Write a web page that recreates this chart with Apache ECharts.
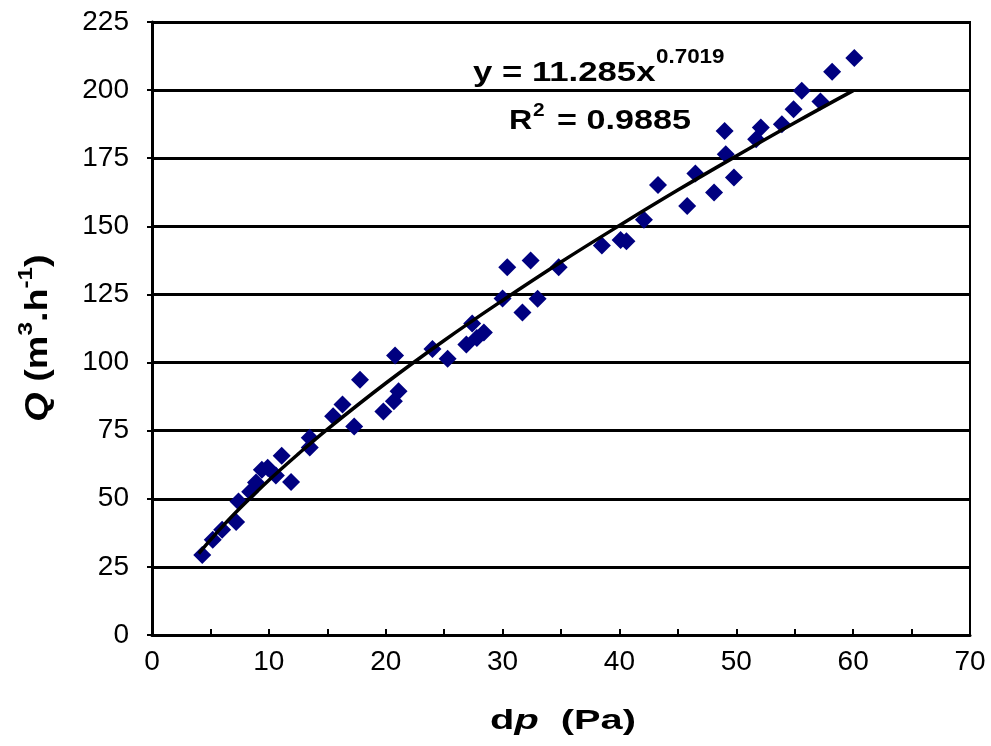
<!DOCTYPE html>
<html>
<head>
<meta charset="utf-8">
<script src="https://cdn.jsdelivr.net/npm/echarts@6/dist/echarts.min.js"></script>
<style>
html,body{margin:0;padding:0;background:#fff;}
#chart{width:991px;height:746px;}
</style>
</head>
<body>
<div id="chart"></div>
<script>
// Measured points: pressure difference dp (Pa) and flow Q (m3/h)
var dpValues = [4.3, 5.2, 6.0, 7.2, 7.4, 8.4, 8.9, 9.4, 9.9, 10.6, 11.1, 11.9,
  13.5, 13.5, 15.5, 16.3, 17.3, 17.8, 19.8, 20.7, 21.1, 20.8, 24.0, 25.3,
  26.9, 27.4, 27.8, 28.4, 30.0, 30.4, 31.7, 32.4, 33.0, 34.8, 38.5, 40.1,
  40.6, 42.1, 43.3, 45.8, 46.5, 48.1, 49.0, 49.1, 49.8, 51.7, 52.1, 53.9,
  54.9, 55.6, 57.2, 58.2, 60.1];
var qValues = [29.4, 35.0, 38.6, 41.5, 49.0, 52.6, 56.0, 60.7, 61.4, 58.5, 65.8, 56.2,
  68.8, 72.4, 80.3, 84.6, 76.5, 93.7, 82.0, 85.8, 89.5, 102.6, 105.0, 101.4,
  106.6, 114.3, 109.0, 111.0, 123.5, 135.0, 118.4, 137.5, 123.4, 135.0, 143.0, 145.0,
  144.5, 152.4, 165.2, 157.5, 169.4, 162.4, 185.0, 176.5, 167.9, 182.0, 186.3, 187.5,
  193.0, 199.8, 195.8, 206.7, 211.8];
// Fitted power trend line
var trendX = [4, 5, 6, 7.5, 10, 12.5, 15, 20, 25, 30, 35, 40, 45, 50, 55, 60];
var trendY = [29.9, 34.9, 39.7, 46.4, 56.8, 66.4, 75.5, 92.4, 108.1, 122.8, 136.9, 150.3, 163.3, 175.8, 188.0, 199.8];
// Axis ticks
var xTicks = {min: 0, max: 70, interval: 10};
var yTicks = {min: 0, max: 225, interval: 25};

var scatterData = dpValues.map(function (x, i) { return [x, qValues[i]]; });
var trendData = trendX.map(function (x, i) { return [x, trendY[i]]; });

var FONT = "'Liberation Sans', Arial, Helvetica, sans-serif";
var chart = echarts.init(document.getElementById('chart'), null, {renderer: 'canvas'});
chart.setOption({
  backgroundColor: '#ffffff',
  animation: false,
  grid: {left: 152, right: 21, top: 22, bottom: 111, show: true, borderColor: '#000', borderWidth: 2, backgroundColor: 'transparent'},
  xAxis: {
    type: 'value', min: xTicks.min, max: xTicks.max, interval: xTicks.interval,
    axisLine: {show: true, onZero: false, lineStyle: {color: '#000', width: 3}},
    axisTick: {show: true, inside: true, length: 6, lineStyle: {color: '#000', width: 2}},
    minorTick: {show: true, splitNumber: 2, length: 6, lineStyle: {color: '#000', width: 2}},
    splitLine: {show: false},
    axisLabel: {color: '#000', fontSize: 28, fontFamily: FONT, margin: 13}
  },
  yAxis: {
    type: 'value', min: yTicks.min, max: yTicks.max, interval: yTicks.interval,
    axisLine: {show: true, onZero: false, lineStyle: {color: '#000', width: 3}},
    axisTick: {show: true, inside: false, length: 5, lineStyle: {color: '#000', width: 2}},
    splitLine: {show: true, lineStyle: {color: '#000', width: 3}},
    axisLabel: {color: '#000', fontSize: 28, fontFamily: FONT, margin: 23}
  },
  series: [
    {
      type: 'scatter', data: scatterData, symbol: 'diamond', symbolSize: [18, 18],
      itemStyle: {color: '#000080', opacity: 1}, z: 2
    },
    {
      type: 'line', data: trendData, smooth: 0.4, showSymbol: false, symbol: 'none',
      lineStyle: {color: '#000', width: 3.5}, z: 3
    }
  ],
  graphic: [
    {type: 'text', x: 473, y: 73, scaleX: 1.24, z: 10, style: {text: 'y = 11.285x', font: 'bold 28px ' + FONT, fill: '#000', textAlign: 'left', textVerticalAlign: 'middle'}},
    {type: 'text', x: 656, y: 57, scaleX: 1.12, z: 10, style: {text: '0.7019', font: 'bold 20px ' + FONT, fill: '#000', textAlign: 'left', textVerticalAlign: 'middle'}},
    {type: 'text', x: 509, y: 121, scaleX: 1.15, z: 10, style: {text: 'R', font: 'bold 28px ' + FONT, fill: '#000', textAlign: 'left', textVerticalAlign: 'middle'}},
    {type: 'text', x: 533, y: 111, scaleX: 1.1, z: 10, style: {text: '2', font: 'bold 19px ' + FONT, fill: '#000', textAlign: 'left', textVerticalAlign: 'middle'}},
    {type: 'text', x: 557, y: 121, scaleX: 1.22, z: 10, style: {text: '= 0.9885', font: 'bold 28px ' + FONT, fill: '#000', textAlign: 'left', textVerticalAlign: 'middle'}},
    {type: 'text', x: 563, y: 721, scaleX: 1.42, z: 10, style: {
      text: '{b|d}{bi|p}{b|  (Pa)}', textAlign: 'center', textVerticalAlign: 'middle',
      rich: {
        b: {fontSize: 28, fontWeight: 'bold', fontFamily: FONT, fill: '#000', color: '#000'},
        bi: {fontSize: 28, fontWeight: 'bold', fontStyle: 'italic', fontFamily: FONT, fill: '#000', color: '#000'}
      }}},
    {type: 'text', x: 35, y: 338, rotation: Math.PI / 2, scaleX: 1.35, scaleY: 1.15, z: 10, style: {
      text: '{bi|Q}{b| (m}{sup|3}{b|.h}{sup|-1}{b|)}', textAlign: 'center', textVerticalAlign: 'middle',
      rich: {
        b: {fontSize: 28, fontWeight: 'bold', fontFamily: FONT, fill: '#000', color: '#000', lineHeight: 34, verticalAlign: 'bottom'},
        bi: {fontSize: 28, fontWeight: 'bold', fontStyle: 'italic', fontFamily: FONT, fill: '#000', color: '#000', lineHeight: 34, verticalAlign: 'bottom'},
        sup: {fontSize: 18, fontWeight: 'bold', fontFamily: FONT, fill: '#000', color: '#000', lineHeight: 18, verticalAlign: 'top'}
      }}}
  ]
});
</script>
</body>
</html>
